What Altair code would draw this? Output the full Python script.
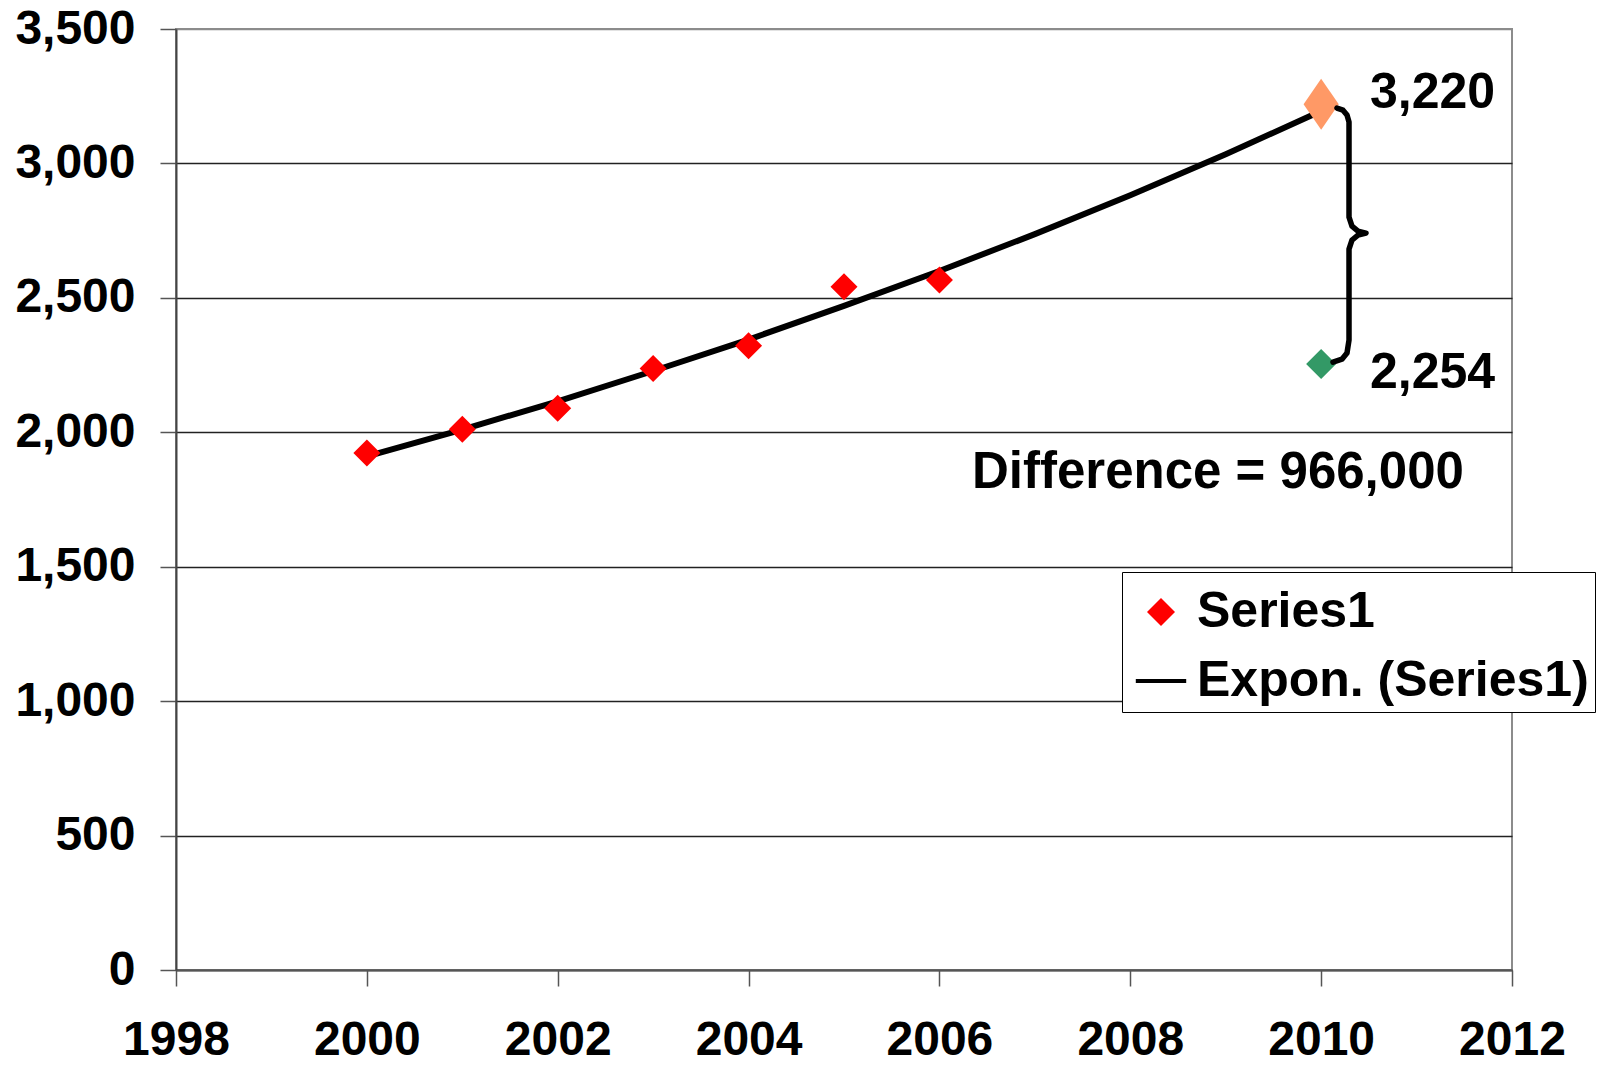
import altair as alt
import pandas as pd

# ---- data ----
years = [2000, 2001, 2002, 2003, 2004, 2005, 2006]
values = [1923, 2011, 2089, 2237, 2322, 2541, 2566]

trend_years = [2000, 2001, 2002, 2003, 2004, 2005, 2006, 2007, 2008, 2009, 2010]
trend_values = [1910, 2010, 2115, 2228, 2345, 2470, 2600, 2737, 2882, 3034, 3195]

proj_year = [2010]
proj_value = [3220]
actual_year = [2010]
actual_value = [2254]

brace_x = [2010.166, 2010.229, 2010.271, 2010.292, 2010.292, 2010.323, 2010.386,
           2010.470, 2010.386, 2010.323, 2010.292, 2010.292, 2010.271, 2010.218, 2010.124]
brace_y = [3206, 3198, 3180, 3154, 2800, 2767, 2748, 2741, 2733, 2715, 2681,
           2343, 2295, 2272, 2261]

value_text = ["3,220", "2,254"]
value_x = [2010.512, 2010.512]
value_y = [3206, 2164]

diff_text = ["Difference = 966,000"]
diff_x = [2006.341]
diff_y = [1792]

x_ticks = [1998, 2000, 2002, 2004, 2006, 2008, 2010, 2012]
y_ticks = [0, 500, 1000, 1500, 2000, 2500, 3000, 3500]

series_names = ["Series1", "Expon. (Series1)"]

FONT = "Liberation Sans"

pts = pd.DataFrame({"year": years, "value": values, "series": "Series1"})
trend = pd.DataFrame({"year": trend_years, "value": trend_values, "series": "Expon. (Series1)"})
proj = pd.DataFrame({"year": proj_year, "value": proj_value})
act = pd.DataFrame({"year": actual_year, "value": actual_value})
brace = pd.DataFrame({"year": brace_x, "value": brace_y, "i": list(range(len(brace_x)))})
vnotes = pd.DataFrame({"year": value_x, "value": value_y, "text": value_text})
dnotes = pd.DataFrame({"year": diff_x, "value": diff_y, "text": diff_text})

x_enc = alt.X("year:Q",
              scale=alt.Scale(domain=[1998, 2012], nice=False, zero=False),
              axis=alt.Axis(values=x_ticks, format="d", title=None, grid=False,
                            labelFontSize=48, labelFont=FONT, labelFontWeight="bold",
                            labelColor="black", labelPadding=30, tickSize=16,
                            tickColor="#555555", tickWidth=1.5, domainColor="#555555",
                            domainWidth=2, labelFlush=False, labelOverlap=False))
y_enc = alt.Y("value:Q",
              scale=alt.Scale(domain=[0, 3500], nice=False),
              axis=alt.Axis(values=y_ticks, format=",d", title=None, grid=True,
                            gridColor=alt.condition("datum.value === 3500",
                                                    alt.value("#8c8c8c"), alt.value("#222222")),
                            gridWidth=1.3,
                            labelFontSize=48, labelFont=FONT, labelFontWeight="bold",
                            labelColor="black", labelPadding=25, tickSize=16,
                            tickColor="#555555", tickWidth=1.5, domainColor="#444444",
                            domainWidth=2, labelFlush=False, labelOverlap=False))

legend = alt.Legend(orient="none", legendX=946, legendY=543, title=" ")

trend_line = alt.Chart(trend).mark_line(strokeWidth=6, strokeCap="round").encode(
    x=x_enc, y=y_enc,
    stroke=alt.Stroke("series:N",
                      scale=alt.Scale(domain=series_names, range=["transparent", "#000000"]),
                      legend=legend),
)

points = alt.Chart(pts).mark_point(filled=True, size=729, opacity=1).encode(
    x=x_enc, y=y_enc,
    fill=alt.Fill("series:N",
                  scale=alt.Scale(domain=series_names, range=["#ff0000", "#000000"]),
                  legend=legend),
    shape=alt.Shape("series:N",
                    scale=alt.Scale(domain=series_names, range=["diamond", "M-1.8,0L1.8,0"]),
                    legend=legend),
)

proj_pt = alt.Chart(proj).mark_point(filled=True, opacity=1, size=2601,
                                     shape="M0,-1L0.69,0L0,1L-0.69,0Z",
                                     color="#ff9966").encode(x=x_enc, y=y_enc)
act_pt = alt.Chart(act).mark_point(filled=True, opacity=1, size=900, shape="diamond",
                                   color="#339966").encode(x=x_enc, y=y_enc)

brace_line = alt.Chart(brace).mark_line(strokeWidth=5.5, color="black", strokeCap="round",
                                        strokeJoin="round").encode(
    x=x_enc, y=y_enc, order="i:Q")

value_marks = alt.Chart(vnotes).mark_text(align="left", baseline="alphabetic", fontSize=50,
                                          font=FONT, fontWeight="bold", color="black").encode(
    x=x_enc, y=y_enc, text="text:N")
diff_mark = alt.Chart(dnotes).mark_text(align="left", baseline="alphabetic", fontSize=51,
                                        font=FONT, fontWeight="bold", color="black").encode(
    x=x_enc, y=y_enc, text="text:N")

chart = alt.layer(trend_line, points, proj_pt, act_pt, brace_line, value_marks,
                  diff_mark).properties(
    width=1336, height=941,
    autosize=alt.AutoSizeParams(type="none"),
    padding={"left": 168, "top": 21, "right": 91, "bottom": 89},
    background="white",
).configure_view(stroke="#8c8c8c", strokeWidth=2).configure_legend(
    padding=6, symbolOffset=8, labelOffset=11, labelFontSize=50, labelFont=FONT,
    labelFontWeight="bold", labelColor="black", symbolSize=784, symbolStrokeWidth=4,
    strokeColor="black", fillColor="white", rowPadding=19, symbolOpacity=1,
    labelLimit=1000, titleFontSize=9, titlePadding=0, titleFont=FONT,
)

chart.save("out.html", embed_options={"renderer": "svg", "actions": False})
